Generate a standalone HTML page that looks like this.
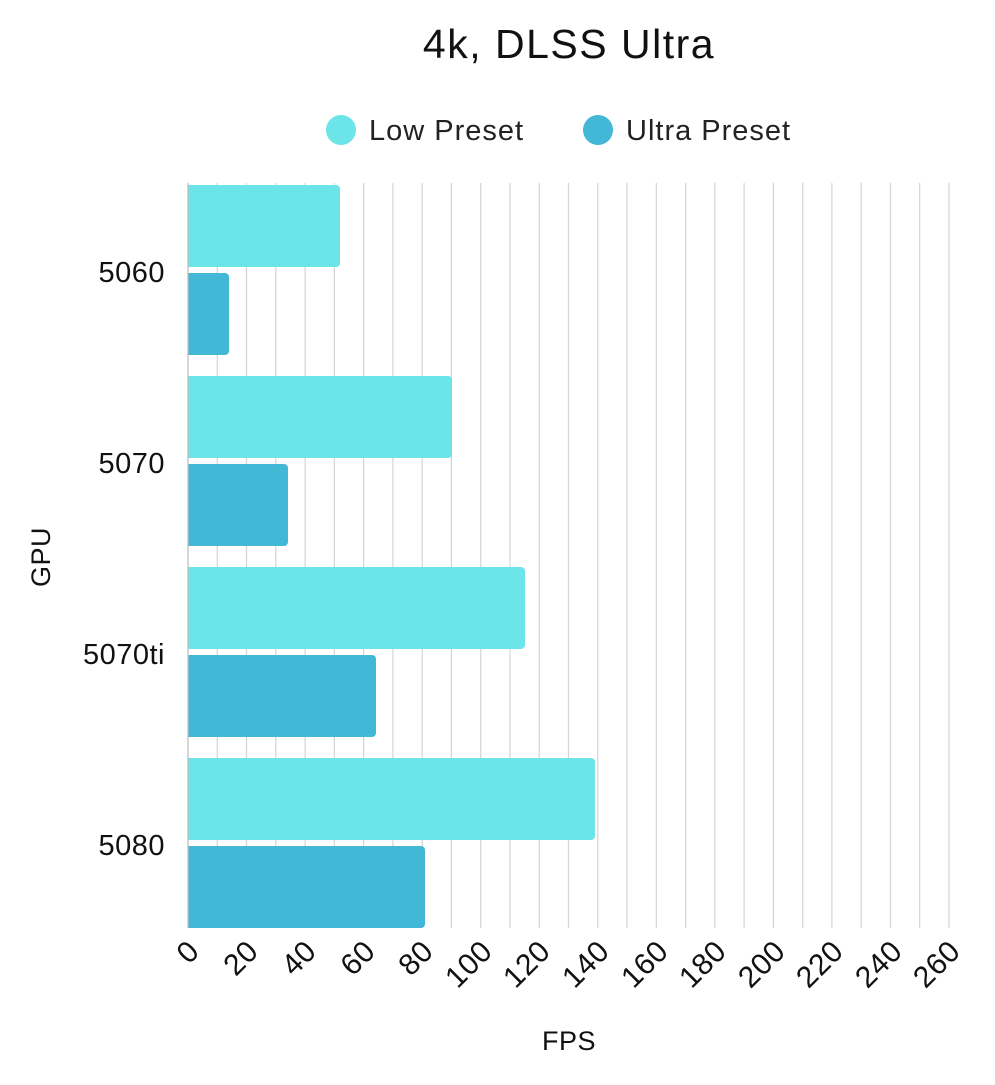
<!DOCTYPE html>
<html><head><style>body{margin:0;background:#fff}</style></head><body>
<svg width="995" height="1080" xmlns="http://www.w3.org/2000/svg" font-family="Liberation Sans, sans-serif">
<rect width="995" height="1080" fill="#fff"/>
<text x="569" y="58" font-size="41" letter-spacing="1.5" text-anchor="middle" fill="#111">4k, DLSS Ultra</text>
<circle cx="341" cy="130" r="15" fill="#6be5e8"/>
<text x="369" y="140" font-size="29" letter-spacing="1" fill="#222">Low Preset</text>
<circle cx="598" cy="130" r="15" fill="#43b8d6"/>
<text x="626" y="140" font-size="29" letter-spacing="1" fill="#222">Ultra Preset</text>
<g stroke="#d4d4d4" stroke-width="1.2">
<line x1="217.3" y1="183" x2="217.3" y2="928"/><line x1="246.5" y1="183" x2="246.5" y2="928"/><line x1="275.8" y1="183" x2="275.8" y2="928"/><line x1="305.1" y1="183" x2="305.1" y2="928"/><line x1="334.4" y1="183" x2="334.4" y2="928"/><line x1="363.6" y1="183" x2="363.6" y2="928"/><line x1="392.9" y1="183" x2="392.9" y2="928"/><line x1="422.2" y1="183" x2="422.2" y2="928"/><line x1="451.4" y1="183" x2="451.4" y2="928"/><line x1="480.7" y1="183" x2="480.7" y2="928"/><line x1="510" y1="183" x2="510" y2="928"/><line x1="539.2" y1="183" x2="539.2" y2="928"/><line x1="568.5" y1="183" x2="568.5" y2="928"/><line x1="597.8" y1="183" x2="597.8" y2="928"/><line x1="627" y1="183" x2="627" y2="928"/><line x1="656.3" y1="183" x2="656.3" y2="928"/><line x1="685.6" y1="183" x2="685.6" y2="928"/><line x1="714.8" y1="183" x2="714.8" y2="928"/><line x1="744.1" y1="183" x2="744.1" y2="928"/><line x1="773.4" y1="183" x2="773.4" y2="928"/><line x1="802.7" y1="183" x2="802.7" y2="928"/><line x1="831.9" y1="183" x2="831.9" y2="928"/><line x1="861.2" y1="183" x2="861.2" y2="928"/><line x1="890.5" y1="183" x2="890.5" y2="928"/><line x1="919.7" y1="183" x2="919.7" y2="928"/><line x1="949" y1="183" x2="949" y2="928"/>
</g>
<g>
<rect x="184" y="185" width="156" height="82" rx="4" fill="#6be5e8"/>
<rect x="184" y="273" width="45" height="82" rx="4" fill="#43b8d6"/>
<rect x="184" y="376" width="268" height="82" rx="4" fill="#6be5e8"/>
<rect x="184" y="464" width="104" height="82" rx="4" fill="#43b8d6"/>
<rect x="184" y="567" width="341" height="82" rx="4" fill="#6be5e8"/>
<rect x="184" y="655" width="192" height="82" rx="4" fill="#43b8d6"/>
<rect x="184" y="758" width="411" height="82" rx="4" fill="#6be5e8"/>
<rect x="184" y="846" width="241" height="82" rx="4" fill="#43b8d6"/>
<rect x="184" y="183" width="4" height="750" fill="#fff"/>
<line x1="188" y1="183" x2="188" y2="928" stroke="#bbb" stroke-width="1.2"/>
</g>
<g font-size="29" letter-spacing="0.5" fill="#111" text-anchor="end">
<text x="165" y="282">5060</text>
<text x="165" y="473">5070</text>
<text x="165" y="664">5070ti</text>
<text x="165" y="855">5080</text>
</g>
<g font-size="30" letter-spacing="0.5" fill="#111" text-anchor="end">
<text transform="translate(201,953) rotate(-45)">0</text>
<text transform="translate(260,953) rotate(-45)">20</text>
<text transform="translate(318,953) rotate(-45)">40</text>
<text transform="translate(377,953) rotate(-45)">60</text>
<text transform="translate(435,953) rotate(-45)">80</text>
<text transform="translate(494,953) rotate(-45)">100</text>
<text transform="translate(552,953) rotate(-45)">120</text>
<text transform="translate(611,953) rotate(-45)">140</text>
<text transform="translate(670,953) rotate(-45)">160</text>
<text transform="translate(728,953) rotate(-45)">180</text>
<text transform="translate(787,953) rotate(-45)">200</text>
<text transform="translate(845,953) rotate(-45)">220</text>
<text transform="translate(904,953) rotate(-45)">240</text>
<text transform="translate(962,953) rotate(-45)">260</text>
</g>
<text x="569" y="1050" font-size="27" letter-spacing="0.5" text-anchor="middle" fill="#111">FPS</text>
<text transform="translate(50,557) rotate(-90)" font-size="27" letter-spacing="0.5" text-anchor="middle" fill="#111">GPU</text>
</svg>
</body></html>
